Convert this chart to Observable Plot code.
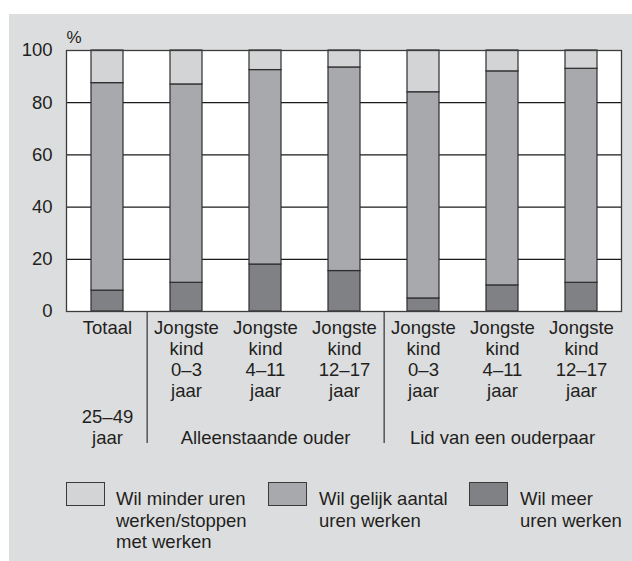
<!DOCTYPE html>
<html>
<head>
<meta charset="utf-8">
<script src="https://cdn.jsdelivr.net/npm/d3@7"></script>
<script src="https://cdn.jsdelivr.net/npm/@observablehq/plot@0.6"></script>
<style>
  html, body { margin: 0; padding: 0; background: #ffffff; }
  #wrap { position: relative; width: 632px; height: 561px; overflow: hidden;
          font-family: "Liberation Sans", Arial, Helvetica, sans-serif; color: #231f20; }
  #panel { position: absolute; left: 9px; top: 14px; width: 623px; height: 547px; background: #dcdddf; }
  #chart { position: absolute; left: 0; top: 0; }
  .sw { position: absolute; top: 482px; width: 37px; height: 22px; border: 1px solid #3a3a3a; }
  .lt { position: absolute; top: 488px; font-size: 18.5px; line-height: 21.5px; white-space: pre-line; }
</style>
</head>
<body>
<div id="wrap">
  <div id="panel"></div>
  <div id="chart"></div>
  <div id="legend"></div>
</div>
<script>
// ---- data ----
const categories = ["Totaal", "AO 0–3", "AO 4–11", "AO 12–17", "LO 0–3", "LO 4–11", "LO 12–17"];
const tickLabels = [
  "Totaal",
  "Jongste\nkind\n0–3\njaar",
  "Jongste\nkind\n4–11\njaar",
  "Jongste\nkind\n12–17\njaar",
  "Jongste\nkind\n0–3\njaar",
  "Jongste\nkind\n4–11\njaar",
  "Jongste\nkind\n12–17\njaar"
];
const series = ["Wil meer uren werken", "Wil gelijk aantal uren werken", "Wil minder uren werken/stoppen met werken"];
const meer   = [8, 11, 18, 15.5, 5, 10, 11];
const gelijk = [79.5, 76, 74.5, 78, 79, 82, 82];
const minder = [12.5, 13, 7.5, 6.5, 16, 8, 7];
const colors = ["#808184", "#a8a9ac", "#d3d4d6"];
const yTicks = [0, 20, 40, 60, 80, 100];
const gridValues = [20, 40, 60, 80];
const groupLabels = ["25–49\njaar", "Alleenstaande ouder", "Lid van een ouderpaar"];
const groupAt = [0, 2, 5];
const separatorsAfter = [0, 3];
const legendSeries = [2, 1, 0];
const legendLabels = ["Wil minder uren\nwerken/stoppen\nmet werken", "Wil gelijk aantal\nuren werken", "Wil meer\nuren werken"];

// ---- table ----
const valuesBySeries = [meer, gelijk, minder];
const rows = [];
series.forEach((s, si) => categories.forEach((c, ci) => rows.push({cat: c, series: s, value: valuesBySeries[si][ci]})));

// ---- layout ----
const W = 632, H = 450, ML = 66, MR = 11, MT = 50, MB = 139;
const padIn = 0.6, padOut = 0.3;
const step = (W - ML - MR) / (categories.length - padIn + 2 * padOut);
const font = '"Liberation Sans", Arial, Helvetica, sans-serif';
const FS = 18.5;

const chart = Plot.plot({
  width: W, height: H,
  marginLeft: ML, marginRight: MR, marginTop: MT, marginBottom: MB,
  style: {fontFamily: font, fontSize: FS + "px", color: "#231f20", background: "transparent", overflow: "visible"},
  x: {domain: categories, paddingInner: padIn, paddingOuter: padOut, axis: null},
  y: {domain: [0, 100], axis: null},
  color: {domain: series, range: colors},
  marks: [
    Plot.frame({fill: "white"}),
    Plot.ruleY(gridValues, {stroke: "#1a1a1a", strokeWidth: 1.2}),
    Plot.barY(rows, {x: "cat", y: "value", fill: "series", stroke: "#2e2e2e", strokeWidth: 1.2}),
    Plot.frame({stroke: "#3c3c3c", strokeWidth: 1.3}),
    Plot.axisY({ticks: yTicks, tickSize: 0, tickPadding: 14, label: null, fontSize: FS}),
    Plot.axisX({tickSize: 0, tickPadding: 8, label: null, fontSize: FS,
      tickFormat: d => tickLabels[categories.indexOf(d)], lineHeight: 21 / FS}),
    Plot.text(groupAt.map((i, k) => ({cat: categories[i], label: groupLabels[k]})),
      {x: "cat", text: "label", frameAnchor: "bottom", lineAnchor: "bottom", dy: 132, lineHeight: 21 / FS, fontSize: FS}),
    Plot.ruleX(separatorsAfter.map(i => categories[i]),
      {dx: step / 2, insetTop: 262, insetBottom: -132, stroke: "#333333", strokeWidth: 1.2}),
    Plot.text(["%"], {frameAnchor: "top-left", textAnchor: "start", lineAnchor: "bottom", dy: -8, fontSize: 17})
  ]
});
document.getElementById("chart").appendChild(chart);

// ---- legend ----
const swLeft = [66, 268, 469];
const txLeft = [116, 319, 520];
const legend = document.getElementById("legend");
legendSeries.forEach((si, k) => {
  const sw = document.createElement("div");
  sw.className = "sw";
  sw.style.left = swLeft[k] + "px";
  sw.style.background = colors[si];
  legend.appendChild(sw);
  const t = document.createElement("div");
  t.className = "lt";
  t.style.left = txLeft[k] + "px";
  t.textContent = legendLabels[k];
  legend.appendChild(t);
});
</script>
</body>
</html>
